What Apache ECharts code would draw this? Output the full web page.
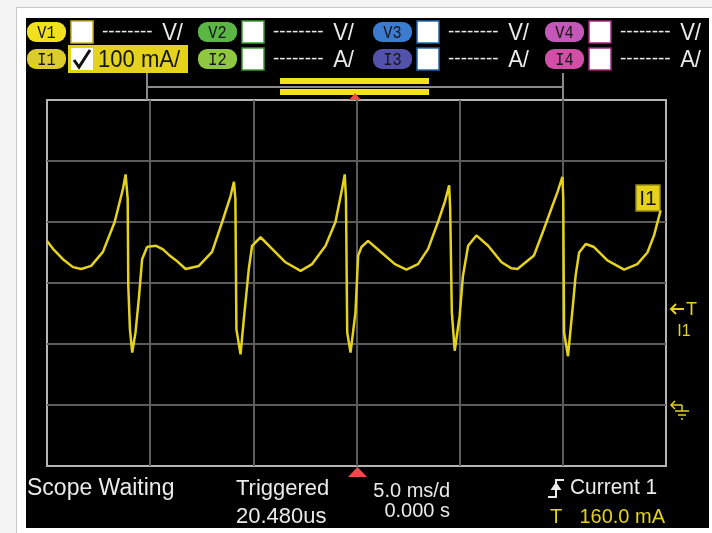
<!DOCTYPE html>
<html>
<head>
<meta charset="utf-8">
<script src="https://cdn.jsdelivr.net/npm/echarts@6/dist/echarts.min.js"></script>
<style>
  html, body { margin: 0; padding: 0; background: #fff; }
  #scope { width: 712px; height: 533px; }
</style>
</head>
<body>
<div id="scope"></div>
<script>
  // I1 trace: time in ms (0 = trigger), current in mA
  let timeMs = [-15.0, -14.71, -14.23, -13.74, -13.34, -12.86, -12.29, -11.72, -11.32, -11.19,
    -11.09, -11.06, -10.98, -10.87, -10.71, -10.55, -10.39, -10.15, -10.03, -9.71,
    -9.38, -9.09, -8.74, -8.28, -7.64, -7.00, -6.51, -6.10, -5.94, -5.87,
    -5.82, -5.62, -5.46, -5.22, -5.06, -4.65, -4.09, -3.44, -2.71, -2.15,
    -1.50, -1.02, -0.70, -0.57, -0.51, -0.45, -0.29, -0.05, 0.08, 0.24,
    0.56, 1.21, 1.86, 2.42, 2.98, 3.47, 3.95, 4.28, 4.49, 4.54,
    4.62, 4.76, 5.00, 5.16, 5.41, 5.81, 6.38, 7.03, 7.51, 7.80,
    8.60, 9.09, 9.50, 9.74, 9.98, 10.02, 10.06, 10.25, 10.47, 10.62,
    10.79, 11.11, 11.51, 12.16, 12.97, 13.61, 14.10, 14.42, 14.74]
  let currentMa = [269, 256, 239, 226, 223, 228, 251, 300, 354, 378,
    338, 195, 124, 86, 119, 174, 239, 259, 260, 261,
    255, 246, 237, 223, 228, 251, 300, 343, 366, 338,
    124, 83, 141, 223, 261, 275, 256, 234, 220, 231,
    261, 300, 354, 378, 338, 119, 86, 152, 245, 259,
    269, 250, 231, 222, 231, 256, 300, 333, 360, 322,
    152, 89, 146, 212, 261, 278, 261, 234, 224, 223,
    245, 289, 327, 349, 374, 338, 119, 80, 157, 212,
    250, 264, 259, 237, 222, 231, 250, 278, 319]

  // 5 ms/div and 100 mA/div, 6 x 6 divisions
  let timeRange = [-15, 15, 5]
  let currentRange = [-100, 500, 100]

  let channelNames = [['V1', 'I1'], ['V2', 'I2'], ['V3', 'I3'], ['V4', 'I4']]
  let unitTexts = ['V/', 'A/']
  let i1Scale = '100 mA/'
  let statusTexts = ['Scope Waiting', 'Triggered', '20.480us', '5.0 ms/d', '0.000 s', 'Current 1', 'T', '160.0 mA']

  const SANS = 'Liberation Sans, Arial, sans-serif'
  const YEL = '#e4d21c'

  function rect (x, y, w, h, fill, stroke, r) {
    return {
      type: 'rect', silent: true,
      shape: { x: x, y: y, width: w, height: h, r: r || 0 },
      style: { fill: fill, stroke: stroke || null, lineWidth: stroke ? 1.5 : 0 }
    }
  }
  function text (x, y, s, fill, font, align, sx) {
    return {
      type: 'text', silent: true, x: x, y: y, scaleX: sx || 1,
      style: { text: s, fill: fill, font: font, textAlign: align || 'left', textVerticalAlign: 'middle' }
    }
  }
  function line (points, stroke, w) {
    return {
      type: 'polyline', silent: true,
      shape: { points: points },
      style: { stroke: stroke, lineWidth: w || 1, fill: null }
    }
  }
  function poly (points, fill) {
    return { type: 'polygon', silent: true, shape: { points: points }, style: { fill: fill } }
  }

  let graphics = []

  // light page frame around the black screen
  graphics.push(rect(0, 0, 26, 533, '#fff'))
  graphics.push(rect(0, 0, 712, 18, '#fff'))
  graphics.push(rect(709, 0, 3, 533, '#fff'))
  graphics.push(rect(0, 528, 712, 5, '#fff'))
  graphics.push(rect(0, 0, 16, 533, '#f4f4f4'))
  graphics.push(rect(0, 0, 712, 7, '#f4f4f4'))
  graphics.push(line([[16.5, 7], [16.5, 533]], '#c8c8c8', 1))
  graphics.push(line([[16, 7.5], [712, 7.5]], '#c8c8c8', 1))

  // channel header
  let colX = [27, 198, 373, 545]
  let pillColors = [['#f0e01e', '#dccb2c'], ['#5cb646', '#8fc740'], ['#3b7bd0', '#5252ad'], ['#c458b8', '#d34ea6']]
  let boxBorders = ['#c9b21a', '#3d9a35', '#2565a8', '#a3247f']
  let rowY = [32, 59]
  colX.forEach((x, c) => {
    rowY.forEach((cy, r) => {
      graphics.push(rect(x, cy - 10, 39, 20, pillColors[c][r], null, 9))
      graphics.push(text(x + 19.5, cy + 1, channelNames[c][r], '#151515', '18px Liberation Mono, monospace', 'center', 0.85))
      if (c === 0 && r === 1) return
      graphics.push(rect(x + 44, cy - 11, 22, 22, '#fff', boxBorders[c]))
      graphics.push(text(x + 75, cy, '--------', '#eaeaea', '19px ' + SANS))
      graphics.push(text(x + 156, cy + 1, unitTexts[r], '#eaeaea', '24px ' + SANS, 'right', 0.92))
    })
  })
  // I1 is the active channel
  graphics.push(rect(68, 45, 120, 28, YEL))
  graphics.push(rect(71, 48, 22, 22, '#fff'))
  graphics.push(line([[74, 60], [79, 67], [90, 50]], '#111', 3))
  graphics.push(text(98, 60, i1Scale, '#151515', '24px ' + SANS, 'left', 0.92))

  // horizontal position bracket
  graphics.push(line([[147, 73], [147, 100]], '#8a8a8a', 2))
  graphics.push(line([[563, 73], [563, 100]], '#8a8a8a', 2))
  graphics.push(line([[147, 87], [563, 87]], '#8a8a8a', 2))
  graphics.push(rect(280, 78, 149, 6, '#f2e21c'))
  graphics.push(rect(280, 89, 149, 6, '#f2e21c'))
  graphics.push(poly([[355, 93], [349, 100], [361, 100]], '#f04a4a'))
  graphics.push(poly([[357.5, 467], [348, 477], [367, 477]], '#f04a4a'))

  // trace label and side markers
  graphics.push(rect(636, 185, 24, 26, YEL, '#9a8a10'))
  graphics.push(text(648, 199, 'I1', '#151515', '21px ' + SANS, 'center'))
  graphics.push(line([[684, 309], [671, 309]], YEL, 2))
  graphics.push(line([[676, 304], [671, 309], [676, 314]], YEL, 2))
  graphics.push(text(686, 310, 'T', YEL, '18px ' + SANS))
  graphics.push(text(684, 332, 'I1', YEL, '16px ' + SANS, 'center'))
  graphics.push(line([[682, 405], [671, 405]], YEL, 1.5))
  graphics.push(line([[675, 401], [671, 405], [675, 409]], YEL, 1.5))
  graphics.push(line([[682, 405], [682, 411]], YEL, 1.5))
  graphics.push(line([[675, 411], [689, 411]], YEL, 1.5))
  graphics.push(line([[678, 415], [686, 415]], YEL, 1.5))
  graphics.push(line([[681, 419], [683, 419]], YEL, 1.5))

  // status line
  graphics.push(text(27, 489, statusTexts[0], '#eaeaea', '23px ' + SANS))
  graphics.push(text(236, 489, statusTexts[1], '#eaeaea', '22px ' + SANS))
  graphics.push(text(236, 517, statusTexts[2], '#eaeaea', '22px ' + SANS))
  graphics.push(text(450, 491, statusTexts[3], '#eaeaea', '20px ' + SANS, 'right'))
  graphics.push(text(450, 511, statusTexts[4], '#eaeaea', '20px ' + SANS, 'right'))
  graphics.push(line([[548, 497], [556, 497], [556, 480], [564, 480]], '#eaeaea', 2))
  graphics.push(poly([[556, 482], [550.5, 490], [561.5, 490]], '#eaeaea'))
  graphics.push(text(570, 488, statusTexts[5], '#eaeaea', '22px ' + SANS, 'left', 0.95))
  graphics.push(text(550, 517, statusTexts[6], YEL, '20px ' + SANS))
  graphics.push(text(665, 517, statusTexts[7], YEL, '20px ' + SANS, 'right'))

  let chart = echarts.init(document.getElementById('scope'))
  let option = {
    backgroundColor: '#000',
    animation: false,
    grid: {
      show: true,
      left: 47, right: 46, top: 100, bottom: 67,
      borderColor: '#b4b4b4', borderWidth: 2,
      backgroundColor: 'transparent'
    },
    xAxis: {
      type: 'value',
      min: timeRange[0], max: timeRange[1], interval: timeRange[2],
      axisLine: { show: false }, axisTick: { show: false }, axisLabel: { show: false },
      splitLine: { show: true, showMinLine: false, showMaxLine: false, lineStyle: { color: '#5c5c5c', width: 2 } }
    },
    yAxis: {
      type: 'value',
      min: currentRange[0], max: currentRange[1], interval: currentRange[2],
      axisLine: { show: false }, axisTick: { show: false }, axisLabel: { show: false },
      splitLine: { show: true, showMinLine: false, showMaxLine: false, lineStyle: { color: '#5c5c5c', width: 2 } }
    },
    series: [{
      name: 'I1',
      type: 'line',
      showSymbol: false,
      data: timeMs.map((t, i) => [t, currentMa[i]]),
      lineStyle: { color: YEL, width: 2.5 },
      z: 5
    }],
    graphic: { elements: graphics }
  }
  chart.setOption(option)
</script>
</body>
</html>
